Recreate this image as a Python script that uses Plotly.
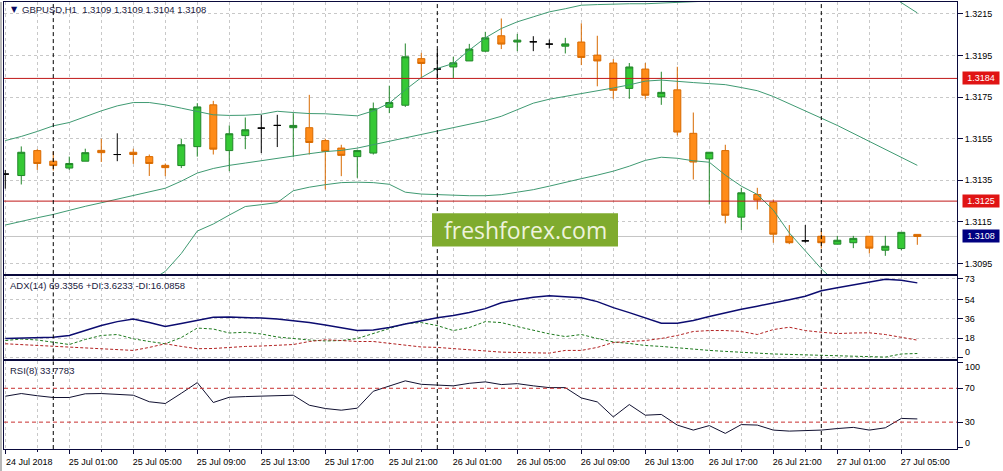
import pandas as pd
import plotly.graph_objects as go

# ---------------- data ----------------
times = pd.date_range("2018-07-24 21:00", periods=58, freq="h")

open_ = [1.31380, 1.31373, 1.31493, 1.31442, 1.31409, 1.31442, 1.31494, 1.31474, 1.31485, 1.31464,
         1.31422, 1.31421, 1.31512, 1.31713, 1.31493, 1.31565, 1.31601, 1.31614, 1.31603, 1.31603,
         1.31541, 1.31505, 1.31464, 1.31481, 1.31701, 1.31711, 1.31935, 1.31885, 1.31895, 1.31924,
         1.31971, 1.32045, 1.32015, 1.32016, 1.32005, 1.31995, 1.32015, 1.31952, 1.31914, 1.31792,
         1.31885, 1.31751, 1.31785, 1.31576, 1.31453, 1.31493, 1.31173, 1.31282, 1.31244, 1.31081,
         1.31059, 1.31081, 1.31043, 1.31050, 1.31081, 1.31014, 1.31022, 1.31090]
high = [1.31400, 1.31513, 1.31500, 1.31489, 1.31464, 1.31502, 1.31550, 1.31576, 1.31502, 1.31474,
        1.31431, 1.31550, 1.31721, 1.31732, 1.31614, 1.31652, 1.31665, 1.31665, 1.31673, 1.31761,
        1.31550, 1.31521, 1.31498, 1.31724, 1.31805, 1.32008, 1.31963, 1.31979, 1.31944, 1.32006,
        1.32064, 1.32128, 1.32054, 1.32043, 1.32027, 1.32035, 1.32105, 1.32045, 1.31933, 1.31914,
        1.31914, 1.31872, 1.31896, 1.31676, 1.31485, 1.31521, 1.31314, 1.31314, 1.31258, 1.31135,
        1.31135, 1.31107, 1.31083, 1.31083, 1.31081, 1.31083, 1.31100, 1.31090]
low = [1.31310, 1.31330, 1.31400, 1.31397, 1.31400, 1.31442, 1.31438, 1.31442, 1.31429, 1.31371,
       1.31370, 1.31409, 1.31464, 1.31474, 1.31394, 1.31500, 1.31481, 1.31510, 1.31461, 1.31474,
       1.31306, 1.31370, 1.31362, 1.31474, 1.31673, 1.31703, 1.31840, 1.31834, 1.31840, 1.31924,
       1.31968, 1.31981, 1.31971, 1.31971, 1.31984, 1.31960, 1.31904, 1.31802, 1.31742, 1.31742,
       1.31742, 1.31713, 1.31566, 1.31354, 1.31234, 1.31143, 1.31111, 1.31210, 1.31050, 1.31043,
       1.31050, 1.31022, 1.31043, 1.31024, 1.30998, 1.30987, 1.31014, 1.31040]
close = [1.31380, 1.31485, 1.31431, 1.31421, 1.31431, 1.31483, 1.31483, 1.31474, 1.31474, 1.31431,
         1.31411, 1.31521, 1.31703, 1.31500, 1.31574, 1.31593, 1.31601, 1.31614, 1.31614, 1.31532,
         1.31489, 1.31470, 1.31493, 1.31694, 1.31724, 1.31944, 1.31912, 1.31885, 1.31915, 1.31981,
         1.32035, 1.32005, 1.32024, 1.32016, 1.32005, 1.32006, 1.31941, 1.31924, 1.31783, 1.31895,
         1.31759, 1.31773, 1.31582, 1.31438, 1.31485, 1.31182, 1.31290, 1.31255, 1.31091, 1.31050,
         1.31059, 1.31050, 1.31062, 1.31071, 1.31024, 1.31033, 1.31100, 1.31080]

bb_upper = [1.31541, 1.31561, 1.31585, 1.31612, 1.31628, 1.31657, 1.31684, 1.31708, 1.31724, 1.31724,
            1.31713, 1.31697, 1.31681, 1.31665, 1.31662, 1.31663, 1.31668, 1.31682, 1.31676, 1.31671,
            1.31670, 1.31665, 1.31660, 1.31684, 1.31721, 1.31785, 1.31844, 1.31888, 1.31912, 1.31976,
            1.32035, 1.32080, 1.32112, 1.32136, 1.32160, 1.32175, 1.32192, 1.32195, 1.32198, 1.32199,
            1.32199, 1.32202, 1.32204, 1.32206, 1.32212, 1.32227, 1.32255, 1.32279, 1.32298, 1.32332,
            1.32356, 1.32370, 1.32370, 1.32342, 1.32303, 1.32255, 1.32205, 1.32155]
bb_middle = [1.31135, 1.31154, 1.31170, 1.31186, 1.31206, 1.31225, 1.31242, 1.31260, 1.31277, 1.31295,
             1.31312, 1.31346, 1.31385, 1.31407, 1.31422, 1.31433, 1.31445, 1.31454, 1.31467, 1.31478,
             1.31488, 1.31494, 1.31505, 1.31521, 1.31537, 1.31553, 1.31569, 1.31585, 1.31601, 1.31617,
             1.31636, 1.31658, 1.31690, 1.31721, 1.31740, 1.31753, 1.31767, 1.31780, 1.31794, 1.31809,
             1.31827, 1.31832, 1.31825, 1.31820, 1.31815, 1.31810, 1.31796, 1.31781, 1.31753, 1.31719,
             1.31686, 1.31649, 1.31614, 1.31576, 1.31537, 1.31499, 1.31461, 1.31422]
bb_lower = [1.30730, 1.30747, 1.30755, 1.30760, 1.30783, 1.30792, 1.30800, 1.30811, 1.30831, 1.30865,
            1.30912, 1.30998, 1.31106, 1.31140, 1.31183, 1.31224, 1.31233, 1.31243, 1.31300, 1.31317,
            1.31329, 1.31339, 1.31341, 1.31339, 1.31331, 1.31293, 1.31284, 1.31281, 1.31279, 1.31276,
            1.31276, 1.31281, 1.31293, 1.31305, 1.31322, 1.31341, 1.31358, 1.31375, 1.31394, 1.31418,
            1.31446, 1.31461, 1.31456, 1.31444, 1.31437, 1.31375, 1.31322, 1.31282, 1.31207, 1.31097,
            1.31011, 1.30925, 1.30853, 1.30810, 1.30771, 1.30743, 1.30719, 1.30690]

adx = [17.6, 18.1, 18.5, 18.8, 20.4, 25.0, 29.6, 33.3, 35.8, 32.4,
       28.7, 31.5, 34.3, 37.3, 37.5, 37.3, 36.6, 35.8, 34.3, 32.4,
       30.1, 27.3, 25.0, 25.5, 27.8, 31.0, 34.3, 37.0, 38.9, 41.7,
       45.4, 50.9, 53.7, 56.0, 57.4, 56.5, 55.6, 51.9, 46.3, 41.7,
       37.0, 31.8, 31.8, 34.3, 38.0, 41.7, 44.9, 47.7, 50.5, 53.7,
       56.9, 62.0, 64.8, 67.6, 70.4, 72.7, 71.8, 69.3356]
plus_di = [15.7, 17.1, 16.2, 14.2, 12.0, 16.7, 20.4, 21.3, 17.3, 14.8,
           12.7, 18.5, 27.3, 26.4, 22.7, 23.4, 21.8, 19.0, 17.3, 16.2,
           15.3, 15.7, 17.6, 22.2, 26.9, 31.5, 32.4, 29.6, 25.0, 27.8,
           33.3, 32.4, 28.7, 25.0, 21.9, 19.4, 21.3, 17.6, 14.4, 13.0,
           11.1, 10.2, 8.8, 7.4, 6.5, 5.6, 4.6, 3.7, 3.2, 2.8,
           2.3, 1.9, 1.4, 0.9, 0.5, 0.3, 3.2, 3.6233]
minus_di = [12.7, 12.0, 11.1, 10.2, 9.3, 8.8, 8.1, 7.4, 6.5, 9.3,
            12.7, 10.2, 8.1, 8.3, 9.5, 10.2, 10.6, 11.1, 12.0, 14.8,
            16.4, 15.7, 14.8, 14.8, 13.0, 11.1, 9.7, 9.3, 8.3, 6.9,
            5.6, 4.9, 4.6, 4.2, 4.0, 6.5, 6.5, 9.3, 13.9, 14.8,
            15.7, 17.6, 20.4, 24.1, 25.0, 25.0, 24.1, 21.3, 25.9, 28.1,
            25.0, 23.4, 22.2, 22.7, 22.9, 21.3, 18.5, 16.0858]
rsi = [60.6, 63.8, 61.2, 59.1, 59.1, 63.5, 63.8, 62.9, 61.8, 54.1,
       52.0, 64.1, 76.7, 53.2, 59.4, 60.2, 60.6, 60.6, 61.8, 50.0,
       46.1, 44.1, 46.5, 66.5, 72.4, 78.8, 74.7, 73.5, 72.9, 75.9,
       77.6, 74.4, 75.5, 72.9, 70.8, 70.8, 58.6, 53.9, 36.2, 50.8,
       38.2, 39.1, 26.5, 20.6, 25.9, 16.7, 27.1, 26.5, 20.6, 19.4,
       20.0, 20.6, 22.4, 23.8, 20.6, 23.3, 34.4, 33.7783]

x_label_text = ["24 Jul 2018", "25 Jul 01:00", "25 Jul 05:00", "25 Jul 09:00", "25 Jul 13:00",
                "25 Jul 17:00", "25 Jul 21:00", "26 Jul 01:00", "26 Jul 05:00", "26 Jul 09:00",
                "26 Jul 13:00", "26 Jul 17:00", "26 Jul 21:00", "27 Jul 01:00", "27 Jul 05:00"]
price_ticks = [1.3095, 1.3115, 1.3135, 1.3155, 1.3175, 1.3195, 1.3215]
adx_ticks = [0, 18, 36, 54, 73]
rsi_ticks = [0, 30, 70, 100]
sr_levels = [1.3184, 1.3125]
bid_price = 1.3108
rsi_levels = [70, 30]

title_text = "GBPUSD,H1  1.3109 1.3109 1.3104 1.3108"
adx_text = "ADX(14) 69.3356 +DI:3.6233 -DI:16.0858"
rsi_text = "RSI(8) 33.7783"

# ---------------- styling ----------------
N = len(times)
FONT = "Liberation Sans, Arial, sans-serif"
BORDER = "#0a0a3c"
GRID = "#c8c8c8"
BAND = "#3f9a72"
bar = pd.Timedelta(hours=1)
x_left = times[0] - 0.08 * bar
x_right = times[0] + 59.48 * bar

fig = go.Figure()


def pick(arr, idx):
    return [arr[i] for i in idx]


groups = [
    ([i for i in range(N) if close[i] > open_[i]], "#22862a", "#35c935"),
    ([i for i in range(N) if close[i] < open_[i]], "#d86a00", "#ff8c19"),
    ([i for i in range(N) if close[i] == open_[i]], "#000000", "#000000"),
]
for idx, lc, fc in groups:
    style = dict(line=dict(color=lc, width=1), fillcolor=fc)
    fig.add_trace(go.Candlestick(
        x=pick(times, idx), open=pick(open_, idx), high=pick(high, idx),
        low=pick(low, idx), close=pick(close, idx),
        increasing=style, decreasing=style, whiskerwidth=0,
        xaxis="x", yaxis="y", showlegend=False, hoverinfo="skip"))

for band in (bb_upper, bb_middle, bb_lower):
    fig.add_trace(go.Scatter(x=times, y=band, mode="lines", line=dict(color=BAND, width=1),
                             xaxis="x", yaxis="y", showlegend=False, hoverinfo="skip"))

fig.add_trace(go.Scatter(x=times, y=plus_di, mode="lines",
                         line=dict(color="#1e7a1e", width=1, dash="3px,2px"),
                         xaxis="x2", yaxis="y2", showlegend=False, hoverinfo="skip"))
fig.add_trace(go.Scatter(x=times, y=minus_di, mode="lines",
                         line=dict(color="#b22222", width=1, dash="3px,2px"),
                         xaxis="x2", yaxis="y2", showlegend=False, hoverinfo="skip"))
fig.add_trace(go.Scatter(x=times, y=adx, mode="lines", line=dict(color="#0c0c70", width=1.5),
                         xaxis="x2", yaxis="y2", showlegend=False, hoverinfo="skip"))
fig.add_trace(go.Scatter(x=times, y=rsi, mode="lines", line=dict(color="#101030", width=1),
                         xaxis="x3", yaxis="y3", showlegend=False, hoverinfo="skip"))

# ---------------- layout ----------------
PLOT_H = 449.0
PLOT_W = 953.0
main_dom = [1 - 273.3 / PLOT_H, 1]
adx_dom = [1 - 359 / PLOT_H, 1 - 275.7 / PLOT_H]
rsi_dom = [0, 1 - 361 / PLOT_H]

grid_vals = list(times[::2])
label_vals = list(times[::4])

xcommon = dict(type="date", range=[x_left, x_right], showline=True, mirror=True,
               linecolor=BORDER, linewidth=1, zeroline=False, showgrid=True,
               gridcolor=GRID, griddash="3px,3px", gridwidth=1)
ycommon = dict(side="right", showline=True, mirror=True, linecolor=BORDER, linewidth=1,
               zeroline=False, ticks="outside", ticklen=5, tickcolor=BORDER,
               gridcolor=GRID, griddash="3px,3px", gridwidth=1,
               tickfont=dict(family=FONT, size=9, color="black"))

# edge labels of the indicator windows are clamped inside the window (as in the terminal)
adx_ticktext = ["" if v == 0 else str(v) for v in adx_ticks]
rsi_ticktext = ["" if v in (0, 100) else str(v) for v in rsi_ticks]

fig.update_layout(
    width=1003, height=471,
    margin=dict(l=4, r=46, t=0, b=22),
    paper_bgcolor="white", plot_bgcolor="white",
    showlegend=False, boxgap=0.375,
    font=dict(family=FONT, size=9, color="black"),
    xaxis=dict(domain=[0, 1], anchor="y", showticklabels=False, ticks="",
               tickvals=grid_vals, rangeslider=dict(visible=False), **xcommon),
    xaxis2=dict(domain=[0, 1], anchor="y2", showticklabels=False, ticks="",
                tickvals=grid_vals, **xcommon),
    xaxis3=dict(domain=[0, 1], anchor="y3", tickvals=label_vals, ticktext=x_label_text,
                ticks="outside", ticklen=4, tickcolor=BORDER, ticklabelshift=24,
                tickfont=dict(family=FONT, size=9, color="black"),
                minor=dict(tickvals=list(times[2::4]), showgrid=True, gridcolor=GRID,
                           griddash="3px,3px", ticks="outside", ticklen=2, tickcolor=BORDER),
                **xcommon),
    yaxis=dict(domain=main_dom, anchor="x", range=[1.308992, 1.322074],
               tickvals=price_ticks, tickformat=".4f", showgrid=True, **ycommon),
    yaxis2=dict(domain=adx_dom, anchor="x2", range=[-1.85, 75.3],
                tickvals=adx_ticks, ticktext=adx_ticktext, showgrid=True, **ycommon),
    yaxis3=dict(domain=rsi_dom, anchor="x3", range=[-1.76, 101.8],
                tickvals=rsi_ticks, ticktext=rsi_ticktext, showgrid=False, **ycommon),
)

shapes = []
shapes.append(dict(type="line", xref="x domain", x0=0, x1=1, yref="y", y0=bid_price, y1=bid_price,
                   line=dict(color="#c4c4c4", width=1), layer="below"))
for lv in sr_levels:
    shapes.append(dict(type="line", xref="x domain", x0=0, x1=1, yref="y", y0=lv, y1=lv,
                       line=dict(color="#c01818", width=1)))
for lv in rsi_levels:
    shapes.append(dict(type="line", xref="x3 domain", x0=0, x1=1, yref="y3", y0=lv, y1=lv,
                       line=dict(color="#c83030", width=1, dash="4px,3px")))
day_starts = [times[i] for i in range(N) if times[i].hour == 0]
for t in day_starts:
    for xr, yr in (("x", "y domain"), ("x2", "y2 domain"), ("x3", "y3 domain")):
        shapes.append(dict(type="line", xref=xr, x0=t, x1=t, yref=yr, y0=0, y1=1,
                           line=dict(color="black", width=1, dash="4px,3px")))
shapes.append(dict(type="rect", xref="paper", yref="paper",
                   x0=(432 - 4) / PLOT_W, x1=(618 - 4) / PLOT_W,
                   y0=1 - 245.7 / PLOT_H, y1=1 - 212.3 / PLOT_H,
                   fillcolor="#7fab2e", line=dict(width=0)))
shapes.append(dict(type="rect", xref="paper", yref="paper", x0=-4 / PLOT_W, x1=-2 / PLOT_W,
                   y0=-22 / PLOT_H, y1=1, fillcolor="#b8b8b8", line=dict(width=0)))
fig.update_layout(shapes=shapes)

ann = []
ann.append(dict(xref="paper", yref="paper", x=(9 - 4) / PLOT_W, y=1 - 7.5 / PLOT_H,
                xanchor="left", yanchor="middle", text="▼", showarrow=False,
                font=dict(family="DejaVu Sans", size=8, color="#0a0a60")))
ann.append(dict(xref="paper", yref="paper", x=(20 - 4) / PLOT_W, y=1 - 7.5 / PLOT_H,
                xanchor="left", yanchor="middle", text=title_text, showarrow=False,
                font=dict(family=FONT, size=9.5, color="#1a1a40")))
ann.append(dict(xref="paper", yref="paper", x=(8 - 4) / PLOT_W, y=1 - 285 / PLOT_H,
                xanchor="left", yanchor="middle", text=adx_text, showarrow=False,
                font=dict(family=FONT, size=9.5, color="#1a1a40")))
ann.append(dict(xref="paper", yref="paper", x=(8 - 4) / PLOT_W, y=1 - 370 / PLOT_H,
                xanchor="left", yanchor="middle", text=rsi_text, showarrow=False,
                font=dict(family=FONT, size=9.5, color="#1a1a40")))
ann.append(dict(xref="paper", yref="paper", x=(525 - 4) / PLOT_W, y=1 - 229.5 / PLOT_H,
                xanchor="center", yanchor="middle", text="freshforex.com", showarrow=False,
                font=dict(family="Open Sans", size=23, color="#eef3dc")))
# clamped edge labels of indicator windows
for txt, ypx in (("0", 352), ("100", 367), ("0", 443)):
    ann.append(dict(xref="paper", yref="paper", x=1, xanchor="left", xshift=6,
                    y=1 - ypx / PLOT_H, yanchor="middle", text=txt, showarrow=False,
                    font=dict(family=FONT, size=9, color="black")))
for lv, col in ((sr_levels[0], "#e01414"), (sr_levels[1], "#e01414"), (bid_price, "#000080")):
    ann.append(dict(xref="paper", x=1, xanchor="left", xshift=5, yref="y", y=lv,
                    yanchor="middle", text=f"{lv:.4f}", showarrow=False, bgcolor=col,
                    width=34, height=10, borderpad=1,
                    font=dict(family=FONT, size=9, color="white")))
fig.update_layout(annotations=ann)

fig.write_html("out.html", config={"displayModeBar": False},
               post_script="document.body.style.margin='0px';document.body.style.overflow='hidden';")
